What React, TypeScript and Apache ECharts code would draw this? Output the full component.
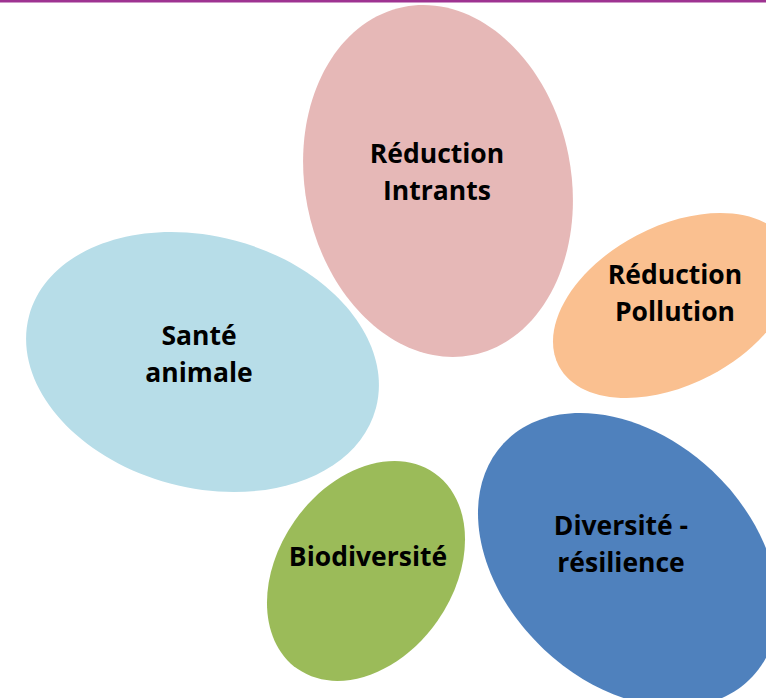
import React, { useEffect, useRef } from "react";
import * as echarts from "echarts";

// Diagram content
const labels: string[] = [
  "Réduction\nIntrants",
  "Réduction\nPollution",
  "Santé\nanimale",
  "Biodiversité",
  "Diversité -\nrésilience",
];
const colors: string[] = ["#E6B8B7", "#FAC090", "#B7DDE8", "#9BBB59", "#4F81BD"];

// Layout (centre, radii, tilt in degrees clockwise, label centre)
const centersX: number[] = [438, 673.5, 202.5, 366, 628];
const centersY: number[] = [181, 305.5, 362, 571, 560];
const radiiX: number[] = [133, 129.6, 179.5, 119.5, 170.5];
const radiiY: number[] = [177.4, 79.2, 125.8, 87.2, 122.6];
const tiltDeg: number[] = [-11.1, -27.8, 14.9, -55, 43.2];
const labelX: number[] = [437, 675, 199, 368, 621];
const labelY: number[] = [171.5, 292.5, 353, 556, 543];

export default function App() {
  const ref = useRef<HTMLDivElement>(null);
  useEffect(() => {
    if (!ref.current) return;
    const chart = echarts.init(ref.current, undefined, { renderer: "svg" });
    const elements: any[] = [];
    elements.push({
      type: "rect",
      shape: { x: 0, y: 0, width: 766, height: 2.5 },
      style: { fill: "#9E3391" },
    });
    labels.forEach((_, i) => {
      elements.push({
        type: "ellipse",
        x: centersX[i],
        y: centersY[i],
        rotation: (-tiltDeg[i] * Math.PI) / 180,
        shape: { cx: 0, cy: 0, rx: radiiX[i], ry: radiiY[i] },
        style: { fill: colors[i] },
      });
    });
    labels.forEach((t, i) => {
      elements.push({
        type: "text",
        x: labelX[i],
        y: labelY[i],
        style: {
          text: t,
          textAlign: "center",
          textVerticalAlign: "middle",
          fontFamily: "Open Sans",
          fontWeight: "bold",
          fontSize: 26.5,
          lineHeight: 37,
          fill: "#000",
        },
      });
    });
    chart.setOption({
      animation: false,
      backgroundColor: "#ffffff",
      graphic: { elements },
    });
    return () => chart.dispose();
  }, []);
  return (
    <div
      ref={ref}
      style={{ position: "fixed", left: 0, top: 0, width: 766, height: 698 }}
    />
  );
}
